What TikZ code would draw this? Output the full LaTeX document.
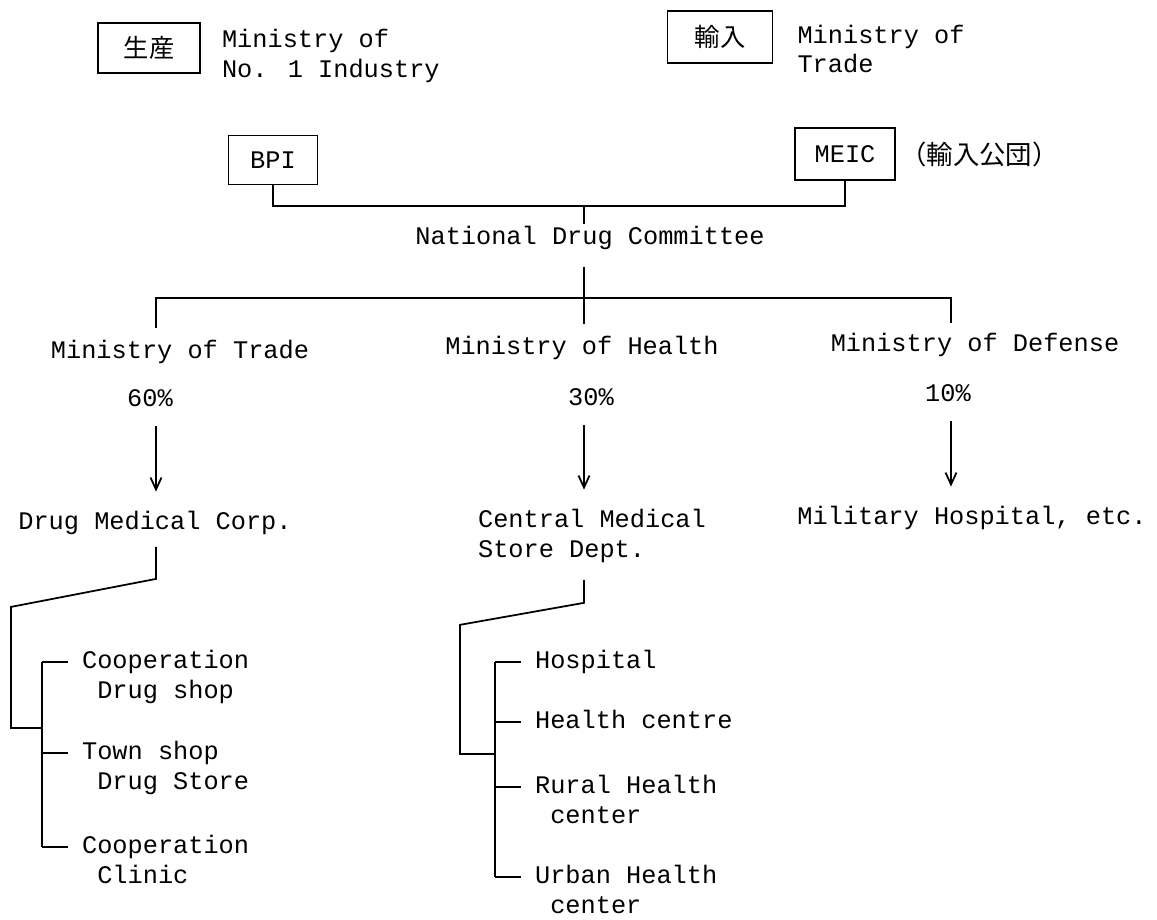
\documentclass[tikz,border=0pt]{standalone}
\usepackage{fontspec}
\setmainfont{Liberation Mono}
\newfontfamily\cjk{Noto Sans CJK JP}
\usetikzlibrary{positioning, arrows.meta}
\newcommand\indentone{\hphantom{x}}
\newcommand\twoline[2]{\begin{tabular}[t]{@{}l@{}}#1\\\indentone #2\end{tabular}}

\begin{document}
\begin{tikzpicture}[x=0.02cm, y=-0.02cm,
  font=\fontsize{14.4}{17}\selectfont,
  >={Straight Barb[length=2.4mm,width=2.2mm]},
  org/.style={draw, line width=1.1pt, inner sep=0pt, minimum height=1.0cm},
  txt/.style={inner sep=1pt, align=left},
  item/.style={txt, anchor=base west, xshift=0.76cm, yshift=-0.13cm},
  link/.style={line width=1pt},
  tick/.style={link, shorten >=0.24cm},
  flow/.style={->, line width=1pt, shorten <=0.35cm, shorten >=0.35cm}
]
\useasboundingbox[fill=white] (0,0) rectangle (1157,920);

% ministries on top
\node[org, minimum width=2.04cm] (prod) at (149,48) {\cjk 生産};
\node[txt, right=0.38cm of prod, yshift=-0.16cm] (prodlbl) {Ministry of\\No. 1 Industry};
\node[org, minimum width=2.1cm, minimum height=1.04cm] (imp) at (720,37) {\cjk 輸入};
\node[txt, right=0.44cm of imp, yshift=-0.24cm] (implbl) {Ministry of\\Trade};

\node[org, minimum width=1.78cm, minimum height=0.98cm] (bpi) at (273,160) {BPI};
\node[org, minimum width=2.0cm, minimum height=1.04cm] (meic) at (845,154) {MEIC};
\node[txt, right=0.05cm of meic] (meicjp) {\cjk\fontsize{15}{17}\selectfont （輸入公団）};

\node[txt] (ndc) at (590,238) {National Drug Committee};
\coordinate (top) at (584,206);
\draw[link] (bpi.south) |- (top) -| (meic.south);
\draw[link] (top) -- (top |- ndc.north);

% three branches
\node[txt] (mot) at (180,352) {Ministry of Trade};
\node[txt] (moh) at (582,348) {Ministry of Health};
\node[txt] (mod) at (975,345) {Ministry of Defense};
\node[txt] (p60) at (150,398) {60\%};
\node[txt] (p30) at (591,397) {30\%};
\node[txt] (p10) at (948,393) {10\%};

\coordinate (c1) at (156,298);
\coordinate (c2) at (584,298);
\coordinate (c3) at (951,298);
\draw[link, shorten <=0.2cm, shorten >=0.16cm] (c1 |- mot.north) -- (c1) -- (c3) -- (c3 |- mod.north);
\draw[link, shorten <=0.3cm, shorten >=0.2cm] (c2 |- ndc.south) -- (c2 |- moh.north);

\node[txt] (dmc) at (155,523) {Drug Medical Corp.};
\node[txt, anchor=west] (cmsd) at (476,536) {Central Medical\\Store Dept.};
\node[txt] (mil) at (972,518) {Military Hospital, etc.};

\draw[flow] (p60.south -| c1) -- (dmc.north -| c1);
\draw[flow] (p30.south -| c2) -- (cmsd.north -| c2);
\draw[flow] (p10.south -| c3) -- (mil.north -| c3);

% Drug Medical Corp.
\coordinate (d1) at (42,662);
\coordinate (d2) at (42,753);
\coordinate (d3) at (42,847);
\coordinate (dj) at (42,728);
\node[item] (coopshop) at (d1) {\twoline{Cooperation}{Drug shop}};
\node[item] (townshop) at (d2) {\twoline{Town shop}{Drug Store}};
\node[item] (coopclin) at (d3) {\twoline{Cooperation}{Clinic}};
\draw[link, shorten <=0.2cm] (dmc.south -| c1) -- ++(0,42) -- ++(-145,28) |- (dj);
\draw[link] (d1) -- (d3);
\draw[tick] (d1) -- (d1 -| coopshop.west);
\draw[tick] (d2) -- (d2 -| townshop.west);
\draw[tick] (d3) -- (d3 -| coopclin.west);

% Central Medical Store Dept.
\coordinate (h1) at (495,662);
\coordinate (h2) at (495,722);
\coordinate (h3) at (495,787);
\coordinate (h4) at (495,877);
\coordinate (hj) at (495,754);
\node[item] (hosp) at (h1) {Hospital};
\node[item] (hcen) at (h2) {Health centre};
\node[item] (rural) at (h3) {\twoline{Rural Health}{center}};
\node[item] (urban) at (h4) {\twoline{Urban Health}{center}};
\draw[link, shorten <=0.3cm] (cmsd.south -| c2) -- ++(0,38) -- ++(-124,22) |- (hj);
\draw[link] (h1) -- (h4);
\draw[tick] (h1) -- (h1 -| hosp.west);
\draw[tick] (h2) -- (h2 -| hcen.west);
\draw[tick] (h3) -- (h3 -| rural.west);
\draw[tick] (h4) -- (h4 -| urban.west);
\end{tikzpicture}
\end{document}
